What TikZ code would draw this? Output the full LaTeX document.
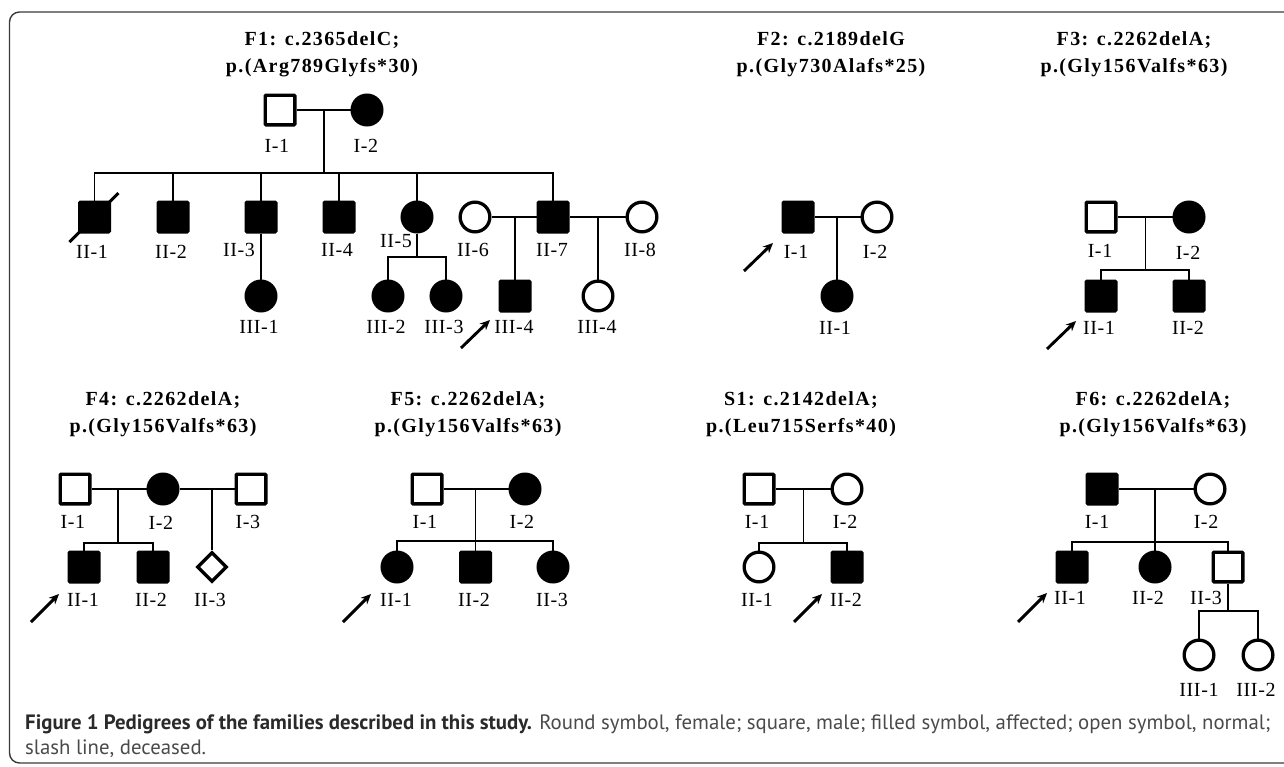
\documentclass[tikz,border=0pt]{standalone}
\usepackage{fontspec}
\setmainfont{Liberation Serif}
\newfontfamily\titlefont[LetterSpace=7]{Liberation Serif}
\newfontfamily\labfont[LetterSpace=3]{Liberation Serif}
\newfontfamily\capfont{PT Sans}
\usetikzlibrary{shapes.geometric,arrows.meta,calc}

\definecolor{capgray}{HTML}{4A4A4A}
\definecolor{capdark}{HTML}{2A2A2A}
\definecolor{framegray}{HTML}{3A3A3A}

\tikzset{
    male/.style={draw, rectangle, line width=3.3pt, minimum size=29.7pt, inner sep=0pt, rounded corners=1pt, fill=white},
    female/.style={draw, circle, line width=3.3pt, minimum size=29.7pt, inner sep=0pt, fill=white},
    unknown/.style={draw, diamond, line width=3.3pt, minimum size=30pt, inner sep=0pt, fill=white},
    aff/.style={fill=black},
    lab/.style={font=\labfont\fontsize{20}{20}\selectfont, inner sep=0pt},
    ttl/.style={font=\titlefont\bfseries\fontsize{20}{27}\selectfont, align=center, inner sep=0pt},
    rel/.style={line width=1.7pt},
    proband/.style={line width=2.9pt, -{Stealth[length=10pt,width=9pt]}},
    captxt/.style={font=\capfont\fontsize{20.8}{21}\selectfont, text=capgray, inner sep=0pt, anchor=base west}
}

\begin{document}
\begin{tikzpicture}[x=1pt, y=-1pt]
    \useasboundingbox (0,0) rectangle (1284,766);
    \clip (0,0) rectangle (1284,766);
    \draw[framegray, line width=1.4pt, rounded corners=10pt] (9.5,12) rectangle (1320,763);

    % --- 1. F1 ---
    \node[ttl] (f1t) at (322,54) {F1: c.2365delC;\\p.(Arg789Glyfs*30)};
    \node[male] (f1i1) at (280,110) {};
    \node[female,aff] (f1i2) at (367,110) {};
    \node[lab] (f1i1l) at (277,146) {I-1};
    \node[lab] (f1i2l) at (366,146) {I-2};
    \draw[rel] (f1i1) -- (f1i2);
    \coordinate (f1m) at (324,110);
    \coordinate (f1s) at (324,173);
    \draw[rel] (f1m) -- (f1s);

    % 2세대
    \node[male,aff] (f1ii1) at (94.5,217) {};
    \node[male,aff] (f1ii2) at (173,217) {};
    \node[male,aff] (f1ii3) at (261,217) {};
    \node[male,aff] (f1ii4) at (339,217) {};
    \node[female,aff] (f1ii5) at (417,217) {};
    \node[female] (f1ii6) at (475,217) {};
    \node[male,aff] (f1ii7) at (553,217) {};
    \node[female] (f1ii8) at (642,217) {};
    \draw[rel] (f1ii1) |- (f1s) -| (f1ii7);
    \foreach \n in {f1ii2,f1ii3,f1ii4,f1ii5}
        \draw[rel] (\n) -- (\n |- f1s);
    \draw[line width=3pt] ($(f1ii1)+(-25,25)$) -- ($(f1ii1)+(24,-24)$);
    \node[lab] (f1ii1l) at (92,252) {II-1};
    \node[lab] (f1ii2l) at (171,252) {II-2};
    \node[lab] (f1ii3l) at (239,250) {II-3};
    \node[lab] (f1ii4l) at (337,250) {II-4};
    \node[lab] (f1ii5l) at (396,241) {II-5};
    \node[lab] (f1ii6l) at (473,250) {II-6};
    \node[lab] (f1ii7l) at (552,250) {II-7};
    \node[lab] (f1ii8l) at (640,250) {II-8};

    % 3세대
    \node[female,aff] (f1iii1) at (261,296) {};
    \node[female,aff] (f1iii2) at (388,296) {};
    \node[female,aff] (f1iii3) at (446,296) {};
    \node[male,aff] (f1iii4) at (515,296) {};
    \node[female] (f1iii5) at (598,296) {};
    \draw[rel] (f1ii3) -- (f1iii1);
    \coordinate (f1s2) at (417,257);
    \draw[rel] (f1ii5) -- (f1s2);
    \draw[rel] (f1iii2) |- (f1s2) -| (f1iii3);
    \draw[rel] (f1ii6) -- (f1ii7);
    \coordinate (f1m2) at (515,217);
    \draw[rel] (f1m2) -- (f1iii4);
    \draw[rel] (f1ii7) -- (f1ii8);
    \coordinate (f1m3) at (598,217);
    \draw[rel] (f1m3) -- (f1iii5);
    \node[lab] (f1iii1l) at (259,327) {III-1};
    \node[lab] (f1iii2l) at (386,327) {III-2};
    \node[lab] (f1iii3l) at (444,327) {III-3};
    \node[lab] (f1iii4l) at (514,327) {III-4};
    \node[lab] (f1iii5l) at (597,327) {III-4};
    \coordinate (f1a) at (461,348);
    \draw[proband] (f1a) -- ++(29,-28);

    % --- 2. F2 ---
    \node[ttl] (f2t) at (831,54) {F2: c.2189delG\\p.(Gly730Alafs*25)};
    \node[male,aff] (f2i1) at (798,217) {};
    \node[female] (f2i2) at (877,217) {};
    \node[female,aff] (f2ii1) at (837,296) {};
    \draw[rel] (f2i1) -- (f2i2);
    \coordinate (f2m) at (837,217);
    \draw[rel] (f2m) -- (f2ii1);
    \node[lab] (f2i1l) at (796,252) {I-1};
    \node[lab] (f2i2l) at (875,252) {I-2};
    \node[lab] (f2ii1l) at (835,328) {II-1};
    \coordinate (f2a) at (744,271);
    \draw[proband] (f2a) -- ++(29,-28);

    % --- 3. F3 ---
    \node[ttl] (f3t) at (1134,54) {F3: c.2262delA;\\p.(Gly156Valfs*63)};
    \node[male] (f3i1) at (1101,217) {};
    \node[female,aff] (f3i2) at (1189,217) {};
    \node[male,aff] (f3ii1) at (1101,296) {};
    \node[male,aff] (f3ii2) at (1189,296) {};
    \draw[rel] (f3i1) -- (f3i2);
    \coordinate (f3m) at (1145.5,217);
    \coordinate (f3s) at (1145.5,270);
    \draw[rel] (f3m) -- (f3s);
    \draw[rel] (f3ii1) |- (f3s) -| (f3ii2);
    \node[lab] (f3i1l) at (1100,251) {I-1};
    \node[lab] (f3i2l) at (1188,253) {I-2};
    \node[lab] (f3ii1l) at (1099,328) {II-1};
    \node[lab] (f3ii2l) at (1188,328) {II-2};
    \coordinate (f3a) at (1047,349);
    \draw[proband] (f3a) -- ++(29,-28);

    % --- 4. F4 ---
    \node[ttl] (f4t) at (163,414) {F4: c.2262delA;\\p.(Gly156Valfs*63)};
    \node[male] (f4i1) at (75,489) {};
    \node[female,aff] (f4i2) at (163,489) {};
    \node[male] (f4i3) at (251,489) {};
    \node[male,aff] (f4ii1) at (84,567) {};
    \node[male,aff] (f4ii2) at (153,567) {};
    \node[unknown] (f4ii3) at (212,567) {};
    \draw[rel] (f4i1) -- (f4i2);
    \draw[rel] (f4i2) -- (f4i3);
    \coordinate (f4m) at (118,489);
    \coordinate (f4s) at (118,543);
    \draw[rel] (f4m) -- (f4s);
    \draw[rel] (f4ii1) |- (f4s) -| (f4ii2);
    \coordinate (f4m2) at (212,489);
    \draw[rel] (f4m2) -- (f4ii3);
    \node[lab] (f4i1l) at (73,522) {I-1};
    \node[lab] (f4i2l) at (161,523) {I-2};
    \node[lab] (f4i3l) at (248,522) {I-3};
    \node[lab] (f4ii1l) at (83,600) {II-1};
    \node[lab] (f4ii2l) at (151,600) {II-2};
    \node[lab] (f4ii3l) at (210,600) {II-3};
    \coordinate (f4a) at (31,622);
    \draw[proband] (f4a) -- ++(28,-28);

    % --- 5. F5 ---
    \node[ttl] (f5t) at (468,414) {F5: c.2262delA;\\p.(Gly156Valfs*63)};
    \node[male] (f5i1) at (427,489) {};
    \node[female,aff] (f5i2) at (525,489) {};
    \node[female,aff] (f5ii1) at (397,567) {};
    \node[male,aff] (f5ii2) at (475.5,567) {};
    \node[female,aff] (f5ii3) at (553,567) {};
    \draw[rel] (f5i1) -- (f5i2);
    \coordinate (f5m) at (475.5,489);
    \coordinate (f5s) at (475.5,541);
    \draw[rel] (f5m) -- (f5ii2);
    \draw[rel] (f5ii1) |- (f5s) -| (f5ii3);
    \node[lab] (f5i1l) at (425,522) {I-1};
    \node[lab] (f5i2l) at (522,522) {I-2};
    \node[lab] (f5ii1l) at (396,600) {II-1};
    \node[lab] (f5ii2l) at (474,600) {II-2};
    \node[lab] (f5ii3l) at (552,600) {II-3};
    \coordinate (f5a) at (343,622);
    \draw[proband] (f5a) -- ++(28,-28);

    % --- 6. S1 ---
    \node[ttl] (s1t) at (801,414) {S1: c.2142delA;\\p.(Leu715Serfs*40)};
    \node[male] (s1i1) at (759,489) {};
    \node[female] (s1i2) at (847,489) {};
    \node[female] (s1ii1) at (759,567) {};
    \node[male,aff] (s1ii2) at (847,567) {};
    \draw[rel] (s1i1) -- (s1i2);
    \coordinate (s1m) at (803.5,489);
    \coordinate (s1s) at (803.5,543);
    \draw[rel] (s1m) -- (s1s);
    \draw[rel] (s1ii1) |- (s1s) -| (s1ii2);
    \node[lab] (s1i1l) at (757,522) {I-1};
    \node[lab] (s1i2l) at (845,522) {I-2};
    \node[lab] (s1ii1l) at (757,600) {II-1};
    \node[lab] (s1ii2l) at (846,600) {II-2};
    \coordinate (s1a) at (794,622);
    \draw[proband] (s1a) -- ++(28,-28);

    % --- 7. F6 ---
    \node[ttl] (f6t) at (1153,414) {F6: c.2262delA;\\p.(Gly156Valfs*63)};
    \node[male,aff] (f6i1) at (1102,489) {};
    \node[female] (f6i2) at (1210,489) {};
    \node[male,aff] (f6ii1) at (1072,567) {};
    \node[female,aff] (f6ii2) at (1155,567) {};
    \node[male] (f6ii3) at (1228,567) {};
    \node[female] (f6iii1) at (1199,655) {};
    \node[female] (f6iii2) at (1258,655) {};
    \draw[rel] (f6i1) -- (f6i2);
    \coordinate (f6m) at (1155,489);
    \coordinate (f6s) at (1155,542);
    \draw[rel] (f6m) -- (f6ii2);
    \draw[rel] (f6ii1) |- (f6s) -| (f6ii3);
    \coordinate (f6s2) at (1228,611);
    \draw[rel] (f6ii3) -- (f6s2);
    \draw[rel] (f6iii1) |- (f6s2) -| (f6iii2);
    \node[lab] (f6i1l) at (1097,522) {I-1};
    \node[lab] (f6i2l) at (1206,522) {I-2};
    \node[lab] (f6ii1l) at (1070,598) {II-1};
    \node[lab] (f6ii2l) at (1148,598) {II-2};
    \node[lab] (f6ii3l) at (1206,598) {II-3};
    \node[lab] (f6iii1l) at (1199,690) {III-1};
    \node[lab] (f6iii2l) at (1256,690) {III-2};
    \coordinate (f6a) at (1018,622);
    \draw[proband] (f6a) -- ++(29,-29);

    % 캡션
    \node[captxt] (cap1) at (25,729) {\textcolor{capdark}{\bfseries Figure 1 Pedigrees of the families described in this study.} Round symbol, female; square, male; filled symbol, affected; open symbol, normal;};
    \node[captxt] (cap2) at (25,754) {slash line, deceased.};
\end{tikzpicture}
\end{document}
